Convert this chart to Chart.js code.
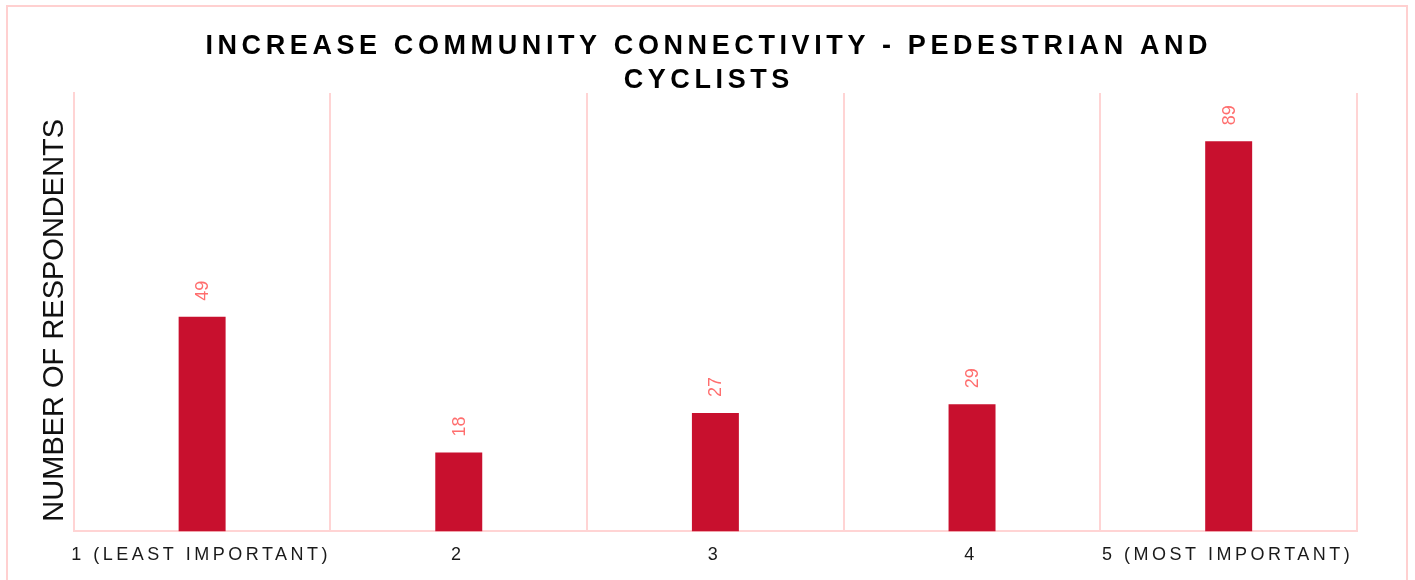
<!DOCTYPE html>
<html>
<head>
<meta charset="utf-8">
<script src="https://cdn.jsdelivr.net/npm/chart.js@4.4.1/dist/chart.umd.min.js"></script>
<style>
  html, body { margin: 0; padding: 0; background: #ffffff; overflow: hidden; }
  #wrap { position: relative; width: 1415px; height: 580px; }
  #frame { position: absolute; left: 6px; top: 5px; width: 1402px; height: 620px; border: 2px solid rgb(255, 208, 208); box-sizing: border-box; }
  canvas { position: absolute; left: 0; top: 0; }
</style>
</head>
<body>
<div id="wrap">
  <div id="frame"></div>
  <canvas id="c" width="1415" height="580"></canvas>
</div>
<script>
const titleLines = ['INCREASE COMMUNITY CONNECTIVITY - PEDESTRIAN AND', 'CYCLISTS'];
const yAxisTitle = 'NUMBER OF RESPONDENTS';
const categories = ['1 (LEAST IMPORTANT)', '2', '3', '4', '5 (MOST IMPORTANT)'];
const respondents = [49, 18, 27, 29, 89];
const yMin = 0;
const yMax = 100;

const FONT = "'Liberation Sans', Arial, Helvetica, sans-serif";
const PINK = 'rgb(255, 212, 212)';
const BAR = 'rgb(200, 16, 46)';
const LABEL = 'rgb(255, 110, 110)';
const TITLE_LS = 4.6;
const TICK_LS = 3.5;

const spacingPlugin = {
  id: 'spacing',
  beforeDraw(chart) {
    const tb = chart.titleBlock;
    if (tb && !tb._lsWrapped) {
      const orig = tb.draw;
      tb.draw = function () {
        const ctx = this.ctx;
        ctx.save();
        ctx.letterSpacing = TITLE_LS + 'px';
        ctx.translate(TITLE_LS / 2 + 9, 5);
        orig.apply(this, arguments);
        ctx.restore();
      };
      tb._lsWrapped = true;
    }
    const xs = chart.scales.x;
    if (xs && !xs._lsWrapped) {
      const origL = xs.drawLabels;
      xs.drawLabels = function () {
        const ctx = this.ctx;
        ctx.save();
        ctx.letterSpacing = TICK_LS + 'px';
        ctx.translate(-1, 0);
        origL.apply(this, arguments);
        ctx.restore();
      };
      xs._lsWrapped = true;
    }
    const ys = chart.scales.y;
    if (ys && !ys._shiftWrapped) {
      const origT = ys.drawTitle;
      ys.drawTitle = function () {
        const ctx = this.ctx;
        ctx.save();
        ctx.translate(0, 8);
        origT.apply(this, arguments);
        ctx.restore();
      };
      ys._shiftWrapped = true;
    }
  }
};

const valueLabels = {
  id: 'valueLabels',
  afterDatasetsDraw(chart) {
    const ctx = chart.ctx;
    chart.data.datasets.forEach((ds, di) => {
      const meta = chart.getDatasetMeta(di);
      meta.data.forEach((bar, i) => {
        ctx.save();
        ctx.translate(bar.x, bar.y - 16);
        ctx.rotate(-Math.PI / 2);
        ctx.font = '18px ' + FONT;
        ctx.fillStyle = LABEL;
        ctx.textAlign = 'left';
        ctx.textBaseline = 'middle';
        ctx.fillText(String(ds.data[i]), 0, 1);
        ctx.restore();
      });
    });
  }
};

new Chart(document.getElementById('c'), {
  type: 'bar',
  data: {
    labels: categories,
    datasets: [{
      data: respondents,
      backgroundColor: BAR,
      borderWidth: 0,
      categoryPercentage: 1,
      barPercentage: 0.183
    }]
  },
  options: {
    responsive: false,
    animation: false,
    devicePixelRatio: 1,
    layout: { padding: { left: 38, right: 58, top: 0, bottom: 1 } },
    plugins: {
      legend: { display: false },
      tooltip: { enabled: false },
      title: {
        display: true,
        text: titleLines,
        color: '#000000',
        font: { family: FONT, size: 27, weight: 'bold', lineHeight: 1.28 },
        padding: { top: 24, bottom: 0 }
      }
    },
    scales: {
      x: {
        offset: true,
        grid: { display: true, color: PINK, lineWidth: 2, drawTicks: false, offset: true },
        border: { display: true, color: PINK, width: 2 },
        ticks: {
          color: '#1a1a1a',
          font: { family: FONT, size: 18 },
          padding: 13,
          maxRotation: 0,
          minRotation: 0,
          autoSkip: false
        }
      },
      y: {
        min: yMin,
        max: yMax,
        grid: { display: false, drawTicks: false },
        border: { display: true, color: PINK, width: 2 },
        ticks: { display: false },
        title: {
          display: true,
          text: yAxisTitle,
          color: '#111111',
          font: { family: FONT, size: 29, lineHeight: 1.2 },
          padding: { top: 0, bottom: 1 }
        }
      }
    }
  },
  plugins: [spacingPlugin, valueLabels]
});
</script>
</body>
</html>
